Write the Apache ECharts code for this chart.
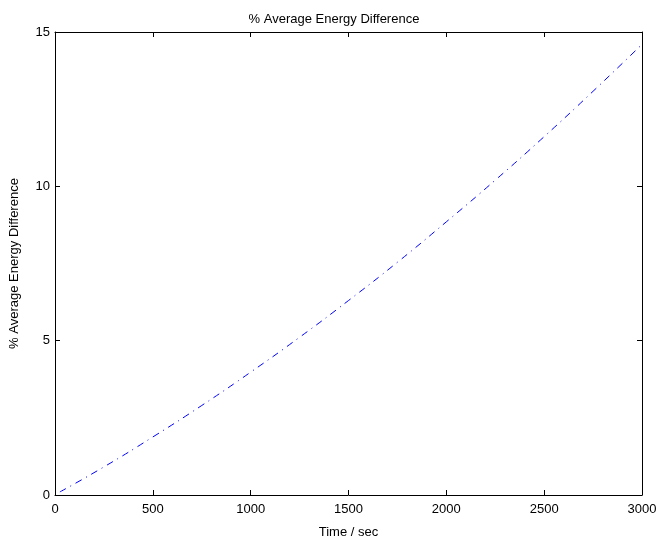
<!DOCTYPE html>
<html>
<head>
<meta charset="utf-8">
<script src="https://cdn.jsdelivr.net/npm/echarts@6/dist/echarts.min.js"></script>
<style>html,body{margin:0;padding:0;background:#fff;}#c{width:668px;height:540px;}</style>
</head>
<body>
<div id="c"></div>
<script>
const timeSec = [25, 250, 500, 750, 1000, 1250, 1500, 1750, 2000, 2250, 2500, 2750, 3000];
const energyDiff = [0.1, 0.91, 1.88, 2.90, 3.98, 5.11, 6.30, 7.54, 8.85, 10.20, 11.61, 13.08, 14.60];
const xTicks = [0, 500, 1000, 1500, 2000, 2500, 3000];
const yTicks = [0, 5, 10, 15];

const font = 'Liberation Sans, Arial, Helvetica, sans-serif';
const fs = 13;
const chart = echarts.init(document.getElementById('c'), null, {renderer: 'canvas'});
const axisCommon = {
  axisLine: {show: true, onZero: false, lineStyle: {color: '#000', width: 1}},
  axisTick: {show: true, inside: true, length: 5, lineStyle: {color: '#000', width: 1}},
  splitLine: {show: false}
};
chart.setOption({
  animation: false,
  backgroundColor: '#fff',
  title: {
    text: '% Average Energy Difference', left: 'center', top: 8,
    textStyle: {fontFamily: font, fontSize: fs, fontWeight: 'normal', color: '#000'}
  },
  grid: {left: 55, right: 26, top: 32, bottom: 45, containLabel: false, outerBoundsMode: 'none'},
  xAxis: [
    Object.assign({
      type: 'value', position: 'bottom', min: xTicks[0], max: xTicks[xTicks.length - 1], interval: 500,
      name: 'Time / sec', nameLocation: 'middle', nameGap: 31,
      nameTextStyle: {fontFamily: font, fontSize: fs, color: '#000'},
      axisLabel: {fontFamily: font, fontSize: fs, color: '#000', margin: 8, formatter: v => String(v)}
    }, axisCommon),
    Object.assign({
      type: 'value', position: 'top', min: xTicks[0], max: xTicks[xTicks.length - 1], interval: 500,
      axisLabel: {show: false}
    }, axisCommon)
  ],
  yAxis: [
    Object.assign({
      type: 'value', position: 'left', min: yTicks[0], max: yTicks[yTicks.length - 1], interval: 5,
      name: '% Average Energy Difference', nameLocation: 'middle', nameGap: 34,
      nameTextStyle: {fontFamily: font, fontSize: fs, color: '#000'},
      axisLabel: {fontFamily: font, fontSize: fs, color: '#000', margin: 5, formatter: v => String(v)}
    }, axisCommon),
    Object.assign({
      type: 'value', position: 'right', min: yTicks[0], max: yTicks[yTicks.length - 1], interval: 5,
      axisLabel: {show: false}
    }, axisCommon)
  ],
  series: [{
    type: 'line',
    xAxisIndex: 0, yAxisIndex: 0,
    data: timeSec.map((t, i) => [t, energyDiff[i]]),
    smooth: true,
    showSymbol: false,
    lineStyle: {color: '#0000ff', width: 1, type: [7, 5, 1, 5]}
  }]
});
</script>
</body>
</html>
